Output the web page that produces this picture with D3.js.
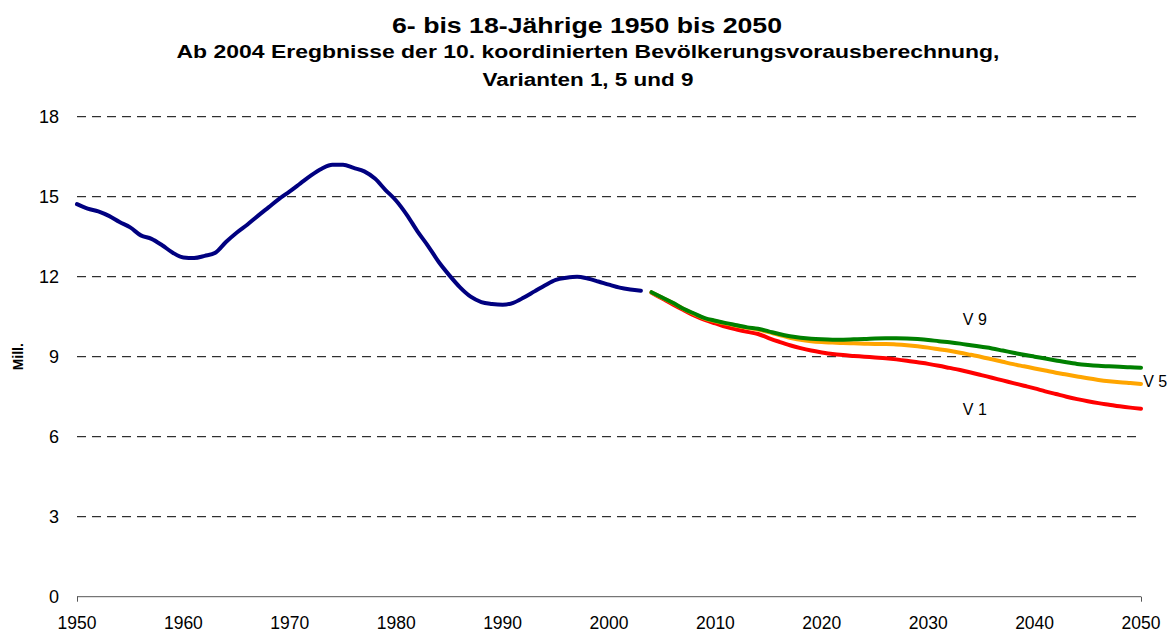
<!DOCTYPE html>
<html><head><meta charset="utf-8">
<script src="https://cdn.jsdelivr.net/npm/d3@7"></script>
<style>body{margin:0;background:#fff}svg{display:block}</style>
</head><body>
<svg id="c" width="1174" height="633"></svg>
<script>
const histYears = d3.range(1950, 2004);
const histValues = [14.72,14.55,14.45,14.28,14.05,13.85,13.55,13.42,13.18,12.90,
 12.72,12.70,12.78,12.90,13.30,13.65,13.95,14.28,14.60,14.92,
 15.20,15.50,15.80,16.05,16.20,16.20,16.08,15.95,15.68,15.25,
 14.85,14.32,13.70,13.15,12.55,12.05,11.60,11.25,11.05,10.98,
 10.95,11.02,11.22,11.45,11.68,11.88,11.96,12.00,11.93,11.82,
 11.70,11.59,11.52,11.47];
const projYears = d3.range(2004, 2051);
const v1Values = [11.40,11.18,10.96,10.75,10.55,10.38,10.25,10.12,10.02,9.93,
 9.85,9.70,9.56,9.43,9.32,9.23,9.16,9.10,9.06,9.03,
 9.00,8.97,8.94,8.90,8.85,8.79,8.73,8.66,8.58,8.50,
 8.41,8.31,8.21,8.11,8.01,7.91,7.81,7.70,7.60,7.50,
 7.41,7.33,7.26,7.20,7.14,7.09,7.05];
const v5Values = [11.41,11.21,11.01,10.79,10.60,10.43,10.33,10.24,10.16,10.08,
 10.02,9.92,9.81,9.71,9.63,9.58,9.55,9.53,9.51,9.50,
 9.49,9.48,9.48,9.46,9.43,9.39,9.34,9.28,9.22,9.15,
 9.07,8.99,8.90,8.81,8.72,8.64,8.56,8.48,8.40,8.33,
 8.26,8.19,8.13,8.08,8.04,8.01,7.98];
const v9Values = [11.42,11.22,11.02,10.80,10.62,10.45,10.35,10.26,10.18,10.10,
 10.05,9.95,9.85,9.77,9.71,9.67,9.65,9.64,9.64,9.65,
 9.66,9.68,9.69,9.69,9.68,9.66,9.63,9.58,9.54,9.49,
 9.43,9.37,9.31,9.23,9.15,9.07,9.00,8.93,8.86,8.79,
 8.73,8.69,8.66,8.64,8.62,8.60,8.59];
const yTicks = [0,3,6,9,12,15,18];
const xTicks = [1950,1960,1970,1980,1990,2000,2010,2020,2030,2040,2050];
const seriesLabels = ["V 9", "V 5", "V 1"];
const titleText = "6- bis 18-Jährige 1950 bis 2050";
const subtitleLines = ["Ab 2004 Eregbnisse der 10. koordinierten Bevölkerungsvorausberechnung,", "Varianten 1, 5 und 9"];
const yLabel = "Mill.";

const svg = d3.select("#c");
const font = "'Liberation Sans', Arial, sans-serif";
const x = d3.scaleLinear().domain([1950, 2050]).range([77, 1141]);
const y = d3.scaleLinear().domain([0, 18]).range([596.7, 116.7]);

// titles (reference text is horizontally stretched)
svg.append("text").attr("x", 587).attr("y", 32.5).attr("text-anchor", "middle")
  .attr("font-family", font).attr("font-weight", "bold").attr("font-size", 22)
  .attr("textLength", 390).attr("lengthAdjust", "spacingAndGlyphs").text(titleText);
const subW = [823, 211];
subtitleLines.forEach((t, i) => {
  svg.append("text").attr("x", 588).attr("y", 57.5 + i * 28.5).attr("text-anchor", "middle")
    .attr("font-family", font).attr("font-weight", "bold").attr("font-size", 18)
    .attr("textLength", subW[i]).attr("lengthAdjust", "spacingAndGlyphs").text(t);
});

// gridlines
svg.append("g").selectAll("line").data(yTicks.filter(d => d > 0)).join("line")
  .attr("x1", 77).attr("x2", 1141).attr("y1", d => y(d)).attr("y2", d => y(d))
  .attr("stroke", "#000").attr("stroke-width", 1).attr("stroke-dasharray", "9,6");

// y labels
svg.append("g").selectAll("text").data(yTicks).join("text")
  .attr("x", 59).attr("y", d => y(d) + 6.5).attr("text-anchor", "end")
  .attr("font-family", font).attr("font-size", 18).attr("fill", "#000").text(d => d);

// x axis
const xAxis = d3.axisBottom(x).tickValues([1950, 2050]).tickSize(5).tickFormat("");
const gx = svg.append("g").attr("transform", `translate(0,${y(0)})`).call(xAxis);
gx.select(".domain").attr("stroke", "#555").attr("d", `M${x(1950)},0H${x(2050)}`);
gx.selectAll(".tick line").attr("stroke", "#555");
svg.append("g").selectAll("text").data(xTicks).join("text")
  .attr("x", d => x(d)).attr("y", 629).attr("text-anchor", "middle")
  .attr("font-family", font).attr("font-size", 17.5).attr("fill", "#000").text(d => d);

svg.append("text").attr("transform", `translate(23,${y(9)}) rotate(-90)`)
  .attr("text-anchor", "middle").attr("font-family", font).attr("font-weight", "bold")
  .attr("font-size", 14).attr("textLength", 27).attr("lengthAdjust", "spacingAndGlyphs").text(yLabel);

const line = d3.line().x(d => x(d[0])).y(d => y(d[1])).curve(d3.curveMonotoneX);
function draw(years, vals, color) {
  svg.append("path").datum(years.map((yr, i) => [yr, vals[i]]))
    .attr("d", line).attr("fill", "none").attr("stroke", color)
    .attr("stroke-width", 4).attr("stroke-linecap", "round").attr("stroke-linejoin", "round");
}
draw(histYears, histValues, "#000080");
draw(projYears, v1Values, "#FF0000");
draw(projYears, v5Values, "#FFA500");
draw(projYears, v9Values, "#008000");

// series labels anchored in data space (year, value)
const labelAnchors = [[2033.25, 10.19], [2050.2, 7.86], [2033.25, 6.81]];
svg.append("g").selectAll("text").data(seriesLabels).join("text")
  .attr("x", (d, i) => x(labelAnchors[i][0])).attr("y", (d, i) => y(labelAnchors[i][1]))
  .attr("font-family", font).attr("font-size", 16).attr("fill", "#000").text(d => d);
</script>
</body></html>
